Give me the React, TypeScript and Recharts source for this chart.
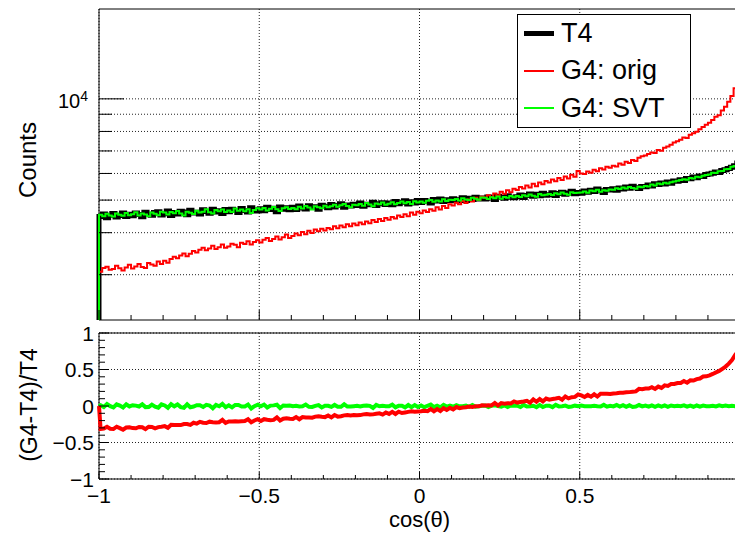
import React from "react";
import { CartesianGrid, Legend, Line, LineChart, ReferenceArea, XAxis, YAxis } from "recharts";

const FONT = '"Liberation Sans", Arial, Helvetica, sans-serif';

// cos(theta) binning: 200 bins of 0.01 between -1 and 1
const X_MIN = -1;
const X_MAX = 1;
const BIN_WIDTH = 0.01;

// counts per bin
const T4_COUNTS = [
  4470, 4545, 4430, 4510, 4560, 4455, 4500, 4580, 4470, 4535,
  4490, 4575, 4530, 4460, 4600, 4540, 4505, 4590, 4620, 4515,
  4555, 4640, 4500, 4590, 4545, 4630, 4610, 4520, 4665, 4580,
  4600, 4545, 4680, 4625, 4570, 4700, 4610, 4650, 4560, 4690,
  4620, 4700, 4655, 4590, 4720, 4660, 4610, 4745, 4680, 4640,
  4710, 4650, 4760, 4690, 4730, 4620, 4770, 4700, 4745, 4680,
  4760, 4690, 4800, 4735, 4705, 4810, 4750, 4780, 4700, 4825,
  4790, 4745, 4850, 4770, 4820, 4880, 4760, 4835, 4800, 4860,
  4820, 4900, 4790, 4860, 4840, 4925, 4815, 4880, 4910, 4850,
  4900, 4840, 4950, 4880, 4925, 4980, 4870, 4945, 4900, 4990,
  4920, 4990, 4960, 4900, 5020, 4970, 5040, 4950, 5010, 4985,
  5050, 4980, 5010, 5080, 4990, 5060, 5020, 5100, 5035, 5070,
  5040, 5110, 5070, 5020, 5130, 5090, 5060, 5150, 5100, 5080,
  5120, 5180, 5090, 5160, 5210, 5130, 5200, 5150, 5240, 5170,
  5190, 5260, 5160, 5230, 5280, 5200, 5250, 5310, 5220, 5270,
  5240, 5320, 5280, 5350, 5300, 5390, 5330, 5270, 5380, 5360,
  5400, 5350, 5430, 5390, 5470, 5420, 5500, 5440, 5410, 5490,
  5480, 5540, 5510, 5590, 5560, 5620, 5580, 5660, 5610, 5700,
  5690, 5750, 5720, 5800, 5790, 5860, 5830, 5900, 5880, 5960,
  5980, 6010, 6060, 6040, 6120, 6150, 6210, 6260, 6330, 6450,
];

const ORIG_COUNTS = [
  3060, 3140, 3170, 3105, 3120, 3190, 3135, 3090, 3150, 3210,
  3130, 3175, 3230, 3160, 3140, 3250, 3215, 3190, 3285, 3230,
  3300, 3255, 3340, 3390, 3360, 3420, 3470, 3405, 3460, 3530,
  3490, 3560, 3610, 3545, 3590, 3660, 3575, 3620, 3690, 3605,
  3640, 3710, 3680, 3620, 3735, 3700, 3770, 3690, 3750, 3800,
  3740, 3810, 3860, 3780, 3830, 3900, 3820, 3880, 3950, 3860,
  3910, 3975, 3930, 4020, 3960, 4050, 3990, 4085, 4040, 4110,
  4060, 4130, 4095, 4180, 4120, 4200, 4150, 4240, 4180, 4260,
  4210, 4290, 4240, 4320, 4270, 4360, 4300, 4390, 4330, 4420,
  4370, 4450, 4410, 4500, 4450, 4540, 4480, 4590, 4520, 4620,
  4570, 4660, 4610, 4700, 4650, 4760, 4690, 4800, 4740, 4860,
  4820, 4910, 4860, 4970, 4900, 5020, 4950, 5080, 5010, 5120,
  5080, 5170, 5110, 5230, 5160, 5290, 5220, 5350, 5280, 5400,
  5360, 5470, 5410, 5530, 5450, 5590, 5500, 5640, 5570, 5700,
  5640, 5760, 5690, 5820, 5740, 5880, 5800, 5950, 5870, 6100,
  6000, 5980, 6080, 6030, 6150, 6090, 6220, 6160, 6280, 6240,
  6330, 6290, 6420, 6370, 6500, 6450, 6580, 6530, 6680, 6750,
  6790, 6860, 6930, 6900, 7040, 7010, 7160, 7220, 7300, 7420,
  7480, 7560, 7680, 7650, 7820, 7900, 7980, 8120, 8250, 8380,
  8490, 8650, 8850, 8940, 9240, 9470, 9810, 10200, 10750, 11300,
];

const SVT_COUNTS = [
  4520, 4480, 4550, 4500, 4470, 4560, 4525, 4490, 4575, 4510,
  4540, 4600, 4500, 4560, 4530, 4475, 4590, 4550, 4510, 4620,
  4590, 4530, 4610, 4570, 4640, 4560, 4500, 4620, 4585, 4545,
  4650, 4590, 4620, 4700, 4600, 4560, 4675, 4630, 4690, 4610,
  4660, 4610, 4720, 4650, 4690, 4630, 4700, 4580, 4670, 4725,
  4690, 4740, 4660, 4715, 4770, 4700, 4640, 4730, 4760, 4705,
  4740, 4700, 4775, 4720, 4800, 4755, 4690, 4790, 4760, 4730,
  4810, 4760, 4790, 4840, 4775, 4830, 4870, 4800, 4760, 4845,
  4830, 4870, 4810, 4900, 4850, 4795, 4885, 4860, 4920, 4840,
  4880, 4930, 4860, 4905, 4950, 4890, 4935, 4870, 4960, 4920,
  4950, 4910, 4975, 5000, 4940, 4990, 4955, 5030, 4970, 5010,
  5000, 5040, 4985, 5065, 5020, 5005, 5080, 5045, 5010, 5090,
  5080, 5040, 5100, 5065, 5125, 5050, 5110, 5085, 5140, 5095,
  5140, 5105, 5170, 5130, 5195, 5150, 5120, 5210, 5165, 5190,
  5210, 5175, 5240, 5200, 5265, 5225, 5190, 5280, 5245, 5260,
  5270, 5300, 5255, 5340, 5310, 5365, 5290, 5350, 5330, 5380,
  5370, 5420, 5390, 5450, 5410, 5470, 5430, 5400, 5480, 5460,
  5510, 5490, 5560, 5530, 5600, 5570, 5630, 5600, 5650, 5680,
  5710, 5740, 5770, 5750, 5820, 5800, 5870, 5850, 5910, 5940,
  5960, 6030, 6020, 6090, 6100, 6180, 6190, 6280, 6310, 6480,
];

const SERIES = [
  { key: "t4", name: "T4", color: "#000000", width: 5 },
  { key: "orig", name: "G4: orig", color: "#ff0000", width: 2 },
  { key: "svt", name: "G4: SVT", color: "#00ff00", width: 2 },
];

const COUNT_DOMAIN = [2200, 18500];
const COUNT_TICKS = [3000, 4000, 5000, 6000, 7000, 8000, 9000, 10000];
const X_TICKS = [-1, -0.9, -0.8, -0.7, -0.6, -0.5, -0.4, -0.3, -0.2, -0.1, 0, 0.1, 0.2, 0.3, 0.4, 0.5, 0.6, 0.7, 0.8, 0.9, 1];
const X_GRID = [-1, -0.5, 0, 0.5];
const X_LABELS = [-1, -0.5, 0, 0.5];
const RATIO_DOMAIN = [-1, 1];
const RATIO_TICKS = [-1, -0.9, -0.8, -0.7, -0.6, -0.5, -0.4, -0.3, -0.2, -0.1, 0, 0.1, 0.2, 0.3, 0.4, 0.5, 0.6, 0.7, 0.8, 0.9, 1];
const RATIO_GRID = [-1, -0.5, 0, 0.5, 1];

// step outline rows: start from the floor at x=-1, one row per bin low edge, close at x=1
const histRows: any[] = [{ x: X_MIN, t4: COUNT_DOMAIN[0], orig: COUNT_DOMAIN[0], svt: COUNT_DOMAIN[0] }];
T4_COUNTS.forEach((v, i) => {
  histRows.push({ x: X_MIN + i * BIN_WIDTH, t4: v, orig: ORIG_COUNTS[i], svt: SVT_COUNTS[i] });
});
const lastBin = T4_COUNTS.length - 1;
histRows.push({ x: X_MAX, t4: T4_COUNTS[lastBin], orig: ORIG_COUNTS[lastBin], svt: SVT_COUNTS[lastBin] });

// (G4-T4)/T4 at bin centres
const ratioRows: any[] = [{ x: X_MIN, orig: 0, svt: 0 }];
T4_COUNTS.forEach((t, i) => {
  ratioRows.push({
    x: X_MIN + (i + 0.5) * BIN_WIDTH,
    orig: (ORIG_COUNTS[i] - t) / t,
    svt: (SVT_COUNTS[i] - t) / t,
  });
});

const isMajor = (v: number) => Math.abs(v * 2 - Math.round(v * 2)) < 1e-6;
const fmt = (v: number) => (v < 0 ? "\u2212" + String(Math.abs(v)) : String(v));
const hasLabel = (list: number[], v: number) => list.some((l) => Math.abs(l - v) < 1e-6);

function TopXTick(props: any) {
  const { x, y, payload } = props;
  const len = isMajor(payload.value) ? 10 : 5;
  return <line x1={x} x2={x} y1={y} y2={y - len} stroke="#000" />;
}

function CountTick(props: any) {
  const { x, y, payload } = props;
  const decade = payload.value === 10000;
  return (
    <g>
      <line x1={x} x2={x + (decade ? 25 : 13)} y1={y} y2={y} stroke="#000" />
      {decade && (
        <text x={x - 11} y={y + 9} textAnchor="end" fontSize={20} fontFamily={FONT} fill="#000">
          10
          <tspan dy={-7} fontSize={14}>
            4
          </tspan>
        </text>
      )}
    </g>
  );
}

function RatioYTick(props: any) {
  const { x, y, payload } = props;
  const v = payload.value;
  const major = isMajor(v);
  return (
    <g>
      <line x1={x} x2={x + (major ? 10 : 6)} y1={y} y2={y} stroke="#000" />
      {major && (
        <text x={x - 5} y={y} dy="0.36em" textAnchor="end" fontSize={21} fontFamily={FONT} fill="#000">
          {fmt(v)}
        </text>
      )}
    </g>
  );
}

function RatioXTick(props: any) {
  const { x, y, payload } = props;
  const v = payload.value;
  const major = isMajor(v);
  return (
    <g>
      <line x1={x} x2={x} y1={y} y2={y - (major ? 7 : 4)} stroke="#000" />
      {hasLabel(X_LABELS, v) && (
        <text x={x} y={y + 24} textAnchor="middle" fontSize={21} fontFamily={FONT} fill="#000">
          {fmt(v)}
        </text>
      )}
    </g>
  );
}

function LegendBox() {
  return (
    <div
      style={{
        width: 174,
        height: 114,
        boxSizing: "border-box",
        border: "1px solid #000",
        background: "#fff",
        fontFamily: FONT,
        fontSize: 27,
        color: "#000",
      }}
    >
      {SERIES.map((s) => (
        <div key={s.key} style={{ display: "flex", alignItems: "center", height: 37.3, paddingLeft: 6 }}>
          <span style={{ display: "inline-block", width: 30, height: s.width, background: s.color, marginRight: 7 }} />
          <span style={{ lineHeight: "31px" }}>{s.name}</span>
        </div>
      ))}
    </div>
  );
}

const rotatedTitle = (text: string, x: number, y: number, size: number) => (
  <text x={x} y={y} transform={`rotate(-90, ${x}, ${y})`} textAnchor="middle" fontSize={size} fontFamily={FONT} fill="#000">
    {text}
  </text>
);

export default function App() {
  return (
    <div
      style={{
        position: "absolute",
        left: 0,
        top: 0,
        width: 735,
        height: 533,
        overflow: "hidden",
        background: "#fff",
        fontFamily: FONT,
      }}
    >
      <div style={{ position: "absolute", left: 0, top: 0 }}>
        <LineChart width={760} height={330} data={histRows} margin={{ top: 9, right: 20, bottom: 0, left: 0 }}>
          <CartesianGrid horizontalValues={COUNT_TICKS} verticalValues={X_GRID} stroke="#222" strokeDasharray="1 2" />
          <XAxis
            dataKey="x"
            type="number"
            domain={[X_MIN, X_MAX]}
            ticks={X_TICKS}
            interval={0}
            height={10}
            tickSize={0}
            tickMargin={0}
            axisLine={false}
            tickLine={false}
            tick={TopXTick}
          />
          <YAxis
            type="number"
            scale="log"
            domain={COUNT_DOMAIN}
            ticks={COUNT_TICKS}
            interval={0}
            width={99}
            tickSize={0}
            tickMargin={0}
            axisLine={false}
            tickLine={false}
            tick={CountTick}
            label={{
              content: (p: any) => rotatedTitle("Counts", p.viewBox.x + p.viewBox.width - 63, p.viewBox.y + 151, 24),
            }}
          />
          {SERIES.map((s) => (
            <Line
              key={s.key}
              dataKey={s.key}
              name={s.name}
              type="stepAfter"
              stroke={s.color}
              strokeWidth={s.width}
              dot={false}
              activeDot={false}
              isAnimationActive={false}
            />
          ))}
          <ReferenceArea x1={X_MIN} x2={X_MAX} y1={COUNT_DOMAIN[0]} y2={COUNT_DOMAIN[1]} fill="none" stroke="#000" strokeWidth={1} />
          <Legend
            layout="horizontal"
            verticalAlign="middle"
            align="center"
            content={() => <LegendBox />}
            wrapperStyle={{ left: 517, top: 14, width: "auto", height: "auto" }}
          />
        </LineChart>
      </div>
      <div style={{ position: "absolute", left: 0, top: 320 }}>
        <LineChart width={760} height={213} data={ratioRows} margin={{ top: 13, right: 20, bottom: 0, left: 0 }}>
          <CartesianGrid horizontalValues={RATIO_GRID} verticalValues={X_GRID} stroke="#222" strokeDasharray="1 2" />
          <XAxis
            dataKey="x"
            type="number"
            domain={[X_MIN, X_MAX]}
            ticks={X_TICKS}
            interval={0}
            height={54}
            tickSize={0}
            tickMargin={0}
            axisLine={false}
            tickLine={false}
            tick={RatioXTick}
            label={{
              content: (p: any) => (
                <text
                  x={p.viewBox.x + p.viewBox.width / 2}
                  y={p.viewBox.y + 48}
                  textAnchor="middle"
                  fontSize={22}
                  fontFamily={FONT}
                  fill="#000"
                >
                  cos(θ)
                </text>
              ),
            }}
          />
          <YAxis
            type="number"
            domain={RATIO_DOMAIN}
            ticks={RATIO_TICKS}
            interval={0}
            width={99}
            tickSize={0}
            tickMargin={0}
            axisLine={false}
            tickLine={false}
            tick={RatioYTick}
            label={{
              content: (p: any) =>
                rotatedTitle("(G4-T4)/T4", p.viewBox.x + p.viewBox.width - 62, p.viewBox.y + p.viewBox.height / 2 - 1, 23),
            }}
          />
          <Line dataKey="svt" type="linear" stroke="#00ff00" strokeWidth={4} dot={false} activeDot={false} isAnimationActive={false} />
          <Line dataKey="orig" type="linear" stroke="#ff0000" strokeWidth={4} dot={false} activeDot={false} isAnimationActive={false} />
          <ReferenceArea x1={X_MIN} x2={X_MAX} y1={RATIO_DOMAIN[0]} y2={RATIO_DOMAIN[1]} fill="none" stroke="#000" strokeWidth={1} />
        </LineChart>
      </div>
    </div>
  );
}
